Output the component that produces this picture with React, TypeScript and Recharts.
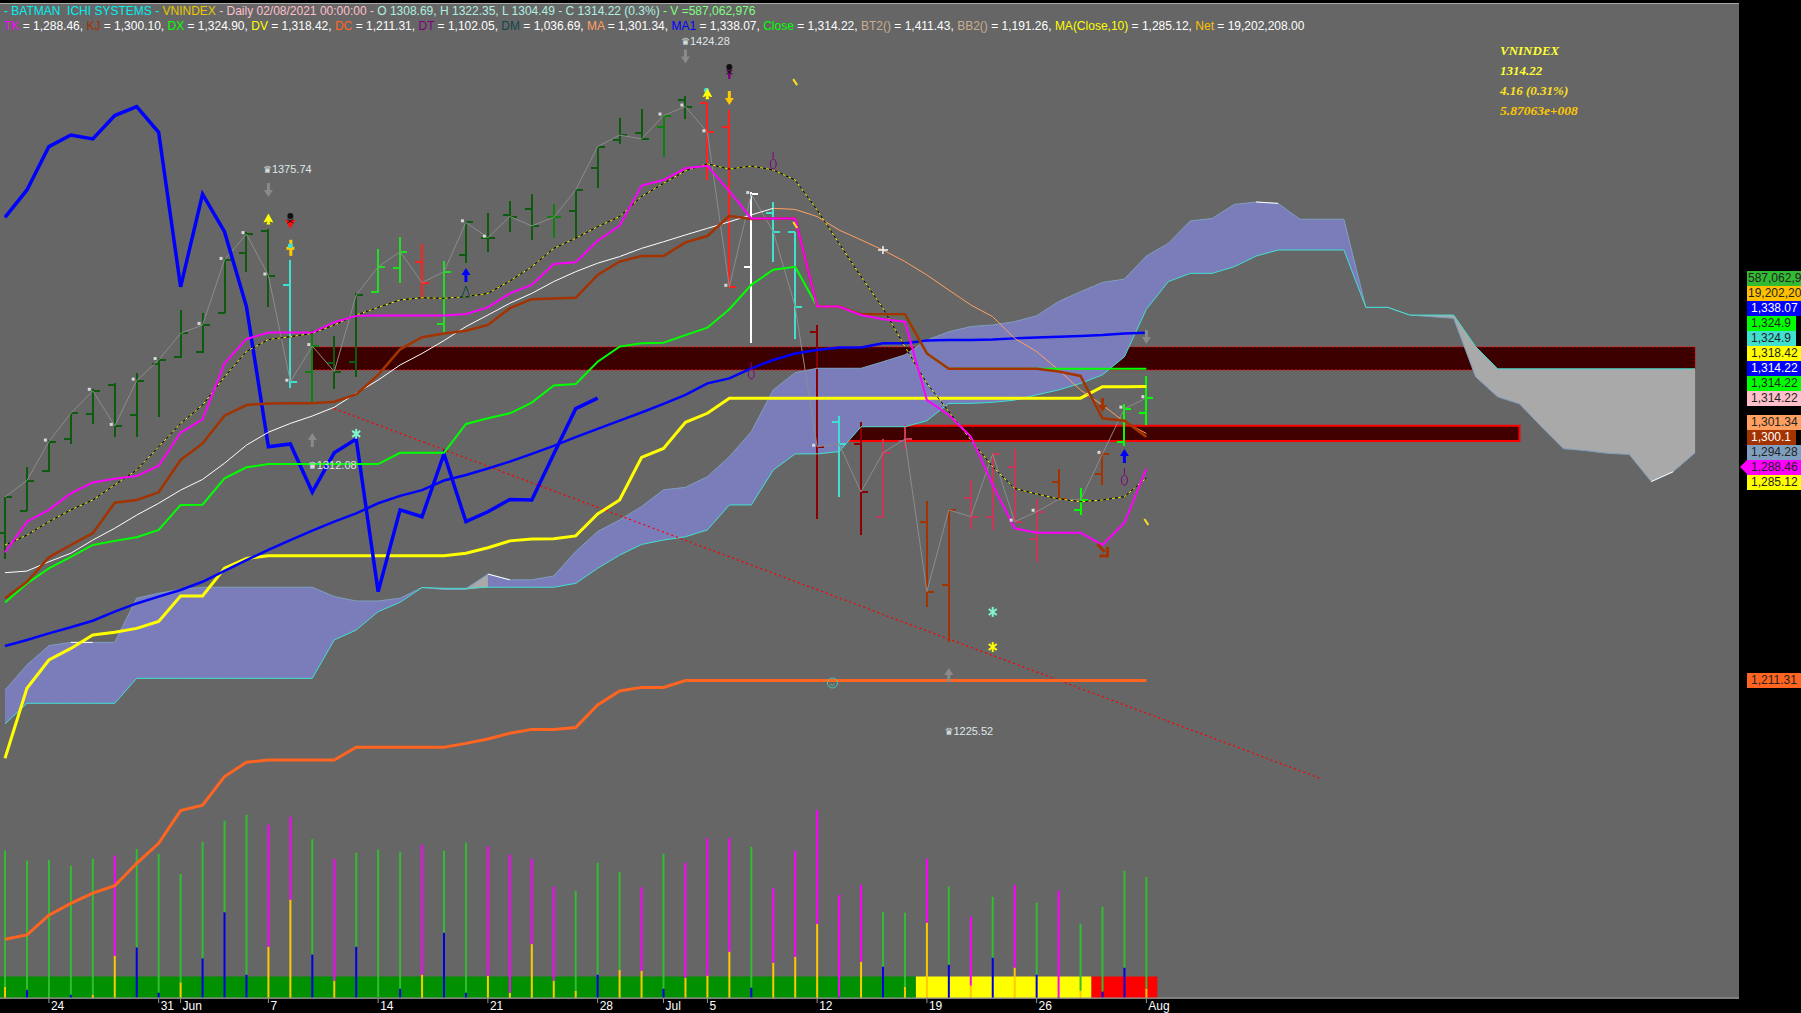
import { Area, Bar, Cell, ComposedChart, Line, ReferenceArea, ReferenceDot, ReferenceLine, XAxis, YAxis } from 'recharts';

const BARS_TOTAL = 78;

const opens = [1265.1, 1273.2, 1287.7, 1299.2, 1308.3, 1319.0, 1308.1, 1326.7, 1329.3, 1331.2, 1345.4, 1367.2, 1375.3, 1355.5, 1323.9, 1327.2, 1327.3, 1352.9, 1361.8, 1364.0, 1341.2, 1366.4, 1372.5, 1381.0, 1383.2, 1380.1, 1382.4, 1398.0, 1408.3, 1410.7, 1412.9, 1422.9, 1421.9, 1413.2, 1362.1, 1381.6, 1374.9, 1338.4, 1305.6, 1297.5, 1271.0, 1298.7, 1269.1, 1246.1, 1277.7, 1271.0, 1289.2, 1263.0, 1283.8, 1273.5, 1286.6, 1298.4, 1308.69];
const highs = [1278.2, 1289.0, 1299.0, 1308.9, 1317.4, 1319.6, 1323.3, 1328.7, 1346.3, 1345.1, 1365.2, 1374.6, 1375.74, 1364.6, 1339.1, 1336.9, 1352.4, 1368.5, 1372.8, 1370.3, 1364.3, 1378.5, 1381.6, 1386.1, 1388.5, 1384.8, 1390.3, 1405.9, 1416.2, 1419.5, 1417.4, 1424.28, 1421.9, 1419.2, 1389.5, 1385.6, 1374.9, 1340.9, 1307.7, 1305.4, 1299.2, 1304.4, 1276.7, 1273.5, 1284.4, 1294.1, 1295.6, 1277.3, 1288.4, 1281.5, 1294.1, 1312.1, 1322.35];
const lows = [1255.6, 1273.1, 1287.4, 1297.4, 1304.8, 1299.9, 1299.9, 1307.5, 1328.7, 1330.8, 1345.1, 1360.3, 1347.3, 1318.0, 1312.08, 1317.4, 1322.0, 1352.4, 1356.1, 1350.6, 1337.8, 1363.4, 1367.6, 1374.9, 1371.9, 1372.5, 1372.5, 1390.7, 1406.7, 1408.3, 1402.2, 1415.8, 1393.7, 1354.8, 1334.2, 1364.0, 1335.6, 1270.0, 1278.3, 1264.3, 1270.8, 1295.6, 1238.0, 1225.52, 1266.5, 1266.2, 1269.2, 1254.6, 1277.1, 1271.8, 1282.6, 1296.8, 1304.49];
const closes = [1278.2, 1284.2, 1298.4, 1308.7, 1316.9, 1304.1, 1320.6, 1328.1, 1337.8, 1340.9, 1364.6, 1374.0, 1358.9, 1320.2, 1333.2, 1323.9, 1351.8, 1362.1, 1367.6, 1356.3, 1360.3, 1378.3, 1372.7, 1380.4, 1377.0, 1380.1, 1390.1, 1405.9, 1410.1, 1408.7, 1417.2, 1420.5, 1411.1, 1354.8, 1388.6, 1374.9, 1347.6, 1296.5, 1297.5, 1280.0, 1294.3, 1299.3, 1243.7, 1273.5, 1271.0, 1293.9, 1269.2, 1272.8, 1277.3, 1277.1, 1293.9, 1310.4, 1314.22];

const DARK = '#0e5a0e';
const MID = '#108010';
const BRIGHT = '#22dd22';
const LIME = '#00ff00';
const TURQ = '#40e0d0';
const RED = '#ff2020';
const WHITE = '#ffffff';
const DRED = '#8b0000';
const ROSE = '#c8385a';
const BROWN = '#a33300';
const barColors = [DARK, DARK, DARK, DARK, DARK, DARK, DARK, DARK, DARK, DARK, DARK, DARK, DARK, TURQ, MID, DARK, DARK, BRIGHT, BRIGHT, RED, BRIGHT, DARK, DARK, DARK, DARK, MID, DARK, DARK, DARK, DARK, MID, DARK, RED, RED, WHITE, TURQ, TURQ, DRED, TURQ, DRED, ROSE, ROSE, BROWN, BROWN, ROSE, ROSE, ROSE, ROSE, BROWN, LIME, BROWN, LIME, LIME];

const tk = [1258.0, 1269.2, 1273.5, 1279.5, 1283.5, 1284.8, 1285.8, 1289.6, 1301.6, 1306.5, 1326.9, 1335.8, 1338.1, 1338.1, 1338.1, 1341.9, 1344.2, 1344.3, 1344.3, 1344.3, 1344.3, 1344.9, 1347.3, 1352.4, 1355.5, 1363.1, 1363.7, 1371.6, 1377.0, 1391.7, 1393.7, 1398.0, 1398.9, 1389.7, 1379.7, 1379.7, 1379.7, 1347.6, 1347.6, 1344.5, 1343.0, 1342.1, 1313.5, 1308.1, 1300.2, 1282.6, 1266.8, 1265.2, 1265.2, 1265.2, 1260.7, 1268.8, 1288.46];
const kj = [1241.3, 1247.3, 1256.2, 1260.7, 1265.0, 1276.1, 1277.1, 1279.9, 1291.7, 1297.7, 1307.8, 1311.7, 1312.3, 1312.4, 1312.4, 1312.9, 1315.6, 1322.7, 1332.0, 1336.4, 1337.8, 1338.8, 1340.9, 1347.0, 1350.3, 1350.5, 1350.8, 1359.1, 1364.0, 1366.0, 1366.0, 1371.0, 1373.3, 1380.7, 1379.5, 1379.7, 1379.7, 1347.6, 1347.6, 1344.8, 1344.8, 1344.8, 1330.5, 1324.9, 1324.9, 1324.9, 1324.9, 1324.9, 1323.9, 1322.3, 1306.9, 1306.0, 1300.1];
const dx = [1239.7, 1246.7, 1252.2, 1256.4, 1260.7, 1262.2, 1263.5, 1266.2, 1275.3, 1275.4, 1285.0, 1289.0, 1290.2, 1290.2, 1290.2, 1290.2, 1290.2, 1290.2, 1294.3, 1294.3, 1294.3, 1304.8, 1306.9, 1308.7, 1312.6, 1318.8, 1319.4, 1327.5, 1333.0, 1334.2, 1334.4, 1337.2, 1339.9, 1346.6, 1355.5, 1361.0, 1362.1, 1347.6, 1347.6, 1344.8, 1344.8, 1344.8, 1330.5, 1324.9, 1324.9, 1324.9, 1324.9, 1324.9, 1324.9, 1324.9, 1324.9, 1324.9, 1324.9];
const dv = [1183.0, 1208.5, 1218.8, 1223.0, 1227.9, 1228.9, 1230.3, 1232.8, 1242.1, 1242.1, 1252.2, 1255.8, 1256.8, 1256.8, 1256.8, 1256.8, 1256.8, 1256.8, 1256.8, 1256.8, 1256.8, 1257.7, 1259.7, 1262.2, 1262.9, 1263.0, 1264.0, 1272.0, 1277.1, 1292.6, 1295.9, 1305.4, 1308.7, 1314.2, 1314.2, 1314.2, 1314.2, 1314.2, 1314.2, 1314.2, 1314.2, 1314.2, 1314.2, 1314.2, 1314.2, 1314.2, 1314.2, 1314.2, 1314.2, 1314.2, 1318.4, 1318.4, 1318.42];
const dc = [1117.0, 1118.6, 1125.8, 1130.1, 1133.8, 1136.5, 1144.7, 1152.0, 1163.9, 1165.9, 1176.3, 1181.5, 1182.3, 1182.3, 1182.3, 1182.3, 1187.0, 1187.0, 1187.0, 1187.0, 1187.0, 1188.4, 1190.0, 1192.1, 1193.5, 1193.5, 1194.2, 1202.4, 1207.5, 1208.8, 1208.8, 1211.31, 1211.31, 1211.31, 1211.31, 1211.31, 1211.31, 1211.31, 1211.31, 1211.31, 1211.31, 1211.31, 1211.31, 1211.31, 1211.31, 1211.31, 1211.31, 1211.31, 1211.31, 1211.31, 1211.31, 1211.31, 1211.31];
const ma1 = [1223.9, 1226.1, 1228.5, 1230.7, 1233.1, 1236.4, 1239.4, 1241.9, 1244.3, 1247.3, 1251.3, 1255.2, 1258.9, 1262.5, 1265.9, 1269.2, 1272.2, 1275.9, 1278.6, 1280.7, 1284.2, 1286.2, 1288.6, 1291.1, 1293.9, 1296.8, 1300.0, 1303.0, 1306.0, 1309.0, 1312.1, 1315.4, 1319.6, 1321.4, 1325.1, 1328.1, 1330.5, 1331.8, 1332.7, 1332.7, 1334.2, 1334.2, 1335.2, 1335.4, 1335.4, 1335.6, 1336.0, 1336.3, 1336.6, 1336.9, 1337.2, 1337.8, 1338.07];
const ma = [1250.6, 1251.2, 1254.6, 1257.7, 1262.5, 1266.8, 1271.6, 1275.9, 1280.7, 1284.6, 1290.5, 1297.1, 1301.8, 1305.0, 1307.7, 1310.9, 1316.0, 1320.8, 1326.3, 1330.5, 1335.2, 1340.3, 1344.5, 1348.8, 1352.4, 1356.7, 1360.3, 1363.4, 1365.8, 1368.8, 1371.2, 1373.7, 1376.1, 1378.5, 1381.0, 1383.4, 1383.0, 1380.4, 1375.5, 1371.9, 1368.2, 1364.0, 1359.1, 1353.6, 1348.2, 1343.9, 1336.0, 1331.2, 1324.5, 1317.2, 1311.7, 1305.6, 1301.34];
const ma10 = [1260.7, 1264.3, 1269.2, 1273.5, 1277.1, 1282.6, 1288.0, 1296.5, 1305.0, 1311.7, 1322.0, 1331.2, 1335.6, 1336.6, 1337.8, 1340.9, 1344.5, 1347.3, 1350.0, 1350.8, 1350.6, 1351.2, 1352.4, 1356.9, 1362.1, 1368.8, 1372.5, 1376.7, 1380.4, 1387.7, 1392.5, 1397.1, 1399.6, 1397.7, 1398.8, 1397.4, 1393.7, 1382.8, 1370.6, 1358.5, 1347.0, 1333.0, 1319.6, 1309.3, 1299.0, 1289.2, 1281.3, 1279.3, 1277.5, 1276.5, 1277.1, 1278.3, 1285.12];
const MA_SWITCH = 35;

const spanA = [1207.8, 1217.0, 1224.0, 1225.2, 1225.2, 1225.2, 1241.3, 1243.1, 1244.5, 1245.3, 1245.3, 1245.3, 1245.3, 1245.3, 1245.3, 1241.9, 1240.3, 1240.3, 1241.3, 1245.2, 1244.5, 1244.5, 1250.1, 1248.0, 1248.0, 1249.4, 1258.3, 1265.6, 1269.8, 1274.7, 1280.8, 1281.7, 1285.6, 1292.9, 1302.0, 1317.2, 1323.5, 1325.1, 1325.1, 1325.1, 1327.5, 1330.0, 1335.4, 1338.4, 1340.3, 1340.9, 1342.1, 1344.2, 1349.4, 1353.0, 1356.4, 1357.6, 1366.0, 1370.6, 1378.8, 1379.7, 1384.8, 1385.7, 1385.2, 1379.4, 1379.4, 1379.4, 1347.3, 1347.3, 1344.5, 1343.9, 1343.3, 1322.0, 1314.7, 1312.1, 1303.8, 1295.8, 1295.1, 1294.1, 1293.7, 1283.8, 1287.4, 1294.28];
const spanB = [1195.5, 1203.0, 1203.0, 1203.0, 1203.0, 1203.0, 1212.1, 1212.1, 1212.1, 1212.1, 1212.1, 1212.1, 1212.1, 1212.1, 1212.1, 1226.1, 1229.7, 1236.4, 1239.8, 1245.2, 1244.9, 1244.9, 1245.3, 1245.3, 1245.3, 1245.3, 1246.7, 1252.2, 1257.0, 1260.9, 1262.5, 1263.7, 1266.2, 1275.3, 1275.3, 1288.0, 1293.9, 1293.9, 1294.7, 1303.8, 1303.8, 1303.8, 1306.0, 1312.3, 1312.3, 1312.7, 1313.5, 1315.4, 1317.2, 1319.6, 1322.7, 1329.3, 1346.6, 1356.7, 1359.7, 1359.7, 1362.1, 1366.0, 1368.2, 1368.2, 1368.2, 1368.2, 1347.3, 1347.3, 1344.5, 1344.5, 1344.5, 1333.0, 1324.9, 1324.9, 1324.9, 1324.9, 1324.9, 1324.9, 1324.9, 1324.9, 1324.9, 1324.9];
const CHIKOU_SHIFT = 25;

// volume in millions, and the short coloured part at the foot of each bar
const volumes = [713, 665, 669, 640, 673, 689, 721, 697, 600, 756, 858, 887, 839, 877, 769, 673, 703, 718, 708, 742, 713, 752, 734, 694, 674, 539, 519, 655, 611, 536, 698, 655, 774, 774, 732, 531, 713, 910, 500, 548, 418, 413, 674, 539, 394, 490, 548, 461, 519, 360, 442, 616, 587];
const volFoot = [55, 40, 3, 16, 16, 205, 245, 26, 76, 192, 415, 113, 248, 476, 211, 84, 248, 3, 45, 113, 316, 26, 108, 26, 261, 84, 35, 113, 137, 132, 45, 98, 108, 224, 50, 171, 200, 358, 6, 176, 152, 55, 365, 161, 60, 195, 147, 113, 6, 35, 31, 147, 45];
const volUp = [1, 1, 1, 1, 1, 0, 1, 1, 1, 1, 1, 1, 0, 0, 1, 0, 1, 1, 1, 0, 1, 1, 0, 0, 0, 0, 1, 1, 1, 0, 1, 0, 0, 0, 1, 0, 0, 0, 0, 0, 1, 1, 0, 1, 0, 1, 0, 1, 0, 1, 1, 1, 1];
const footBlue = [0, 1, 0, 1, 0, 0, 1, 1, 0, 1, 1, 1, 0, 0, 1, 0, 1, 1, 1, 0, 1, 1, 0, 0, 0, 0, 0, 1, 0, 0, 1, 0, 0, 0, 1, 0, 0, 0, 1, 0, 1, 0, 0, 1, 0, 1, 0, 1, 1, 0, 1, 1, 0];

// state strip under the volume: colour runs between these bar positions
const stripEdges = [-0.228, 41.5, 49.5, 52.5];
const stripColors = ['#009000', '#ffff00', '#ff0000'];
const STRIP_HEIGHT = 104;

const closeDots = [2, 4, 5, 6, 7, 9, 10, 11, 12, 13, 14, 21, 22, 30, 31, 32, 33, 34, 37, 46, 47, 50, 51, 52];

const tickIndex = [2, 7, 8, 12, 17, 22, 27, 30, 32, 37, 42, 47, 52];
const tickText = ['24', '31', 'Jun', '7', '14', '21', '28', 'Jul', '5', '12', '19', '26', 'Aug'];

const infoLine1 = [
  ['- BATMAN  ICHI SYSTEMS - ', '#00f0f0'],
  ['VNINDEX', '#e8c800'],
  [' - Daily 02/08/2021 00:00:00 - ', '#ffc0cb'],
  ['O 1308.69, H 1322.35, L 1304.49 - C 1314.22 (0.3%)', '#b0f0e0'],
  [' - V =587,062,976', '#80ff80'],
];
const infoNames = ['TK', 'KJ', 'DX', 'DV', 'DC', 'DT', 'DM', 'MA', 'MA1', 'Close', 'BT2()', 'BB2()', 'MA(Close,10)', 'Net'];
const infoValues = ['1,288.46', '1,300.10', '1,324.90', '1,318.42', '1,211.31', '1,102.05', '1,036.69', '1,301.34', '1,338.07', '1,314.22', '1,411.43', '1,191.26', '1,285.12', '19,202,208.00'];
const infoColors = ['#ff00ff', '#a33300', '#00ff00', '#ffff00', '#ff6420', '#800080', '#104848', '#ffa060', '#0000ff', '#00ff00', '#c8ad90', '#c8ad90', '#ffff00', '#ffc000'];

const sideTop = ['587,062,9', '19,202,20', '1,338.07', '1,324.9', '1,324.9', '1,318.42', '1,314.22', '1,314.22', '1,314.22'];
const sideTopFill = ['#33bb33', '#ffc000', '#0000ff', '#00ff00', '#40e0d0', '#ffff00', '#0000ff', '#00ff00', '#ffc0cb'];
const sideMid = ['1,301.34', '1,300.1', '1,294.28', '1,288.46', '1,285.12'];
const sideMidFill = ['#ffa060', '#a33300', '#7f9fc0', '#ff00ff', '#ffff00'];

const markIndex = [31, 12, 12, 13, 13, 32, 33, 33, 36, 35, 36, 40, 21, 21, 14, 16, 34, 37.7, 45, 45, 43, 50, 51, 51, 52, 50, 52];
const markPrice = [1438.7, 1390.1, 1379.3, 1379.1, 1369, 1425, 1433.4, 1423.6, 1429.4, 1401, 1377.3, 1368.2, 1359.1, 1352.9, 1299, 1301.2, 1324.5, 1210.4, 1236.3, 1223.5, 1213.3, 1311.7, 1293.1, 1285.8, 1269.1, 1258.9, 1336.5];
const markKind = ['down', 'down', 'spade', 'skullRed', 'figure', 'spade2', 'skullPurple', 'downGold', 'dash', 'hand', 'dash', 'plus', 'upBlue', 'triangle', 'up', 'starTurq', 'hand', 'smile', 'starTurq', 'starYellow', 'up', 'downBrown', 'upBlue', 'hand', 'dash', 'diagBrown', 'down'];

const priceLabelIndex = [30.8, 11.75, 13.8, 42.8];
const priceLabelValue = [1444.5, 1397.8, 1289.9, 1192.9];
const priceLabelText = ['1424.28', '1375.74', '1312.08', '1225.52'];

const rows = Array.from({ length: BARS_TOTAL }, (_, i) => {
  const has = i < closes.length;
  const a = spanA[i];
  const b = spanB[i];
  return {
    i,
    ohlc: has ? [lows[i], highs[i]] : null,
    open: opens[i],
    close: closes[i],
    high: highs[i],
    low: lows[i],
    tk: tk[i],
    kj: kj[i],
    dx: dx[i],
    dv: dv[i],
    dc: dc[i],
    ma1: ma1[i],
    maLow: i <= MA_SWITCH ? ma[i] : null,
    maHigh: i >= MA_SWITCH && has ? ma[i] : null,
    ma10: ma10[i],
    chikou: i + CHIKOU_SHIFT < closes.length ? closes[i + CHIKOU_SHIFT] : null,
    spanA: a,
    spanB: b,
    cloudUp: [b, Math.max(a, b)],
    cloudDown: [Math.min(a, b), b],
    flip: i === 21 ? [b, b] : i === 22 ? [b, a] : null,
    edgeWhite: [3, 4, 22, 23, 57, 58, 75, 76].includes(i) ? a : null,
    foot: has ? volFoot[i] : null,
    rest: has ? volumes[i] - volFoot[i] : null,
  };
});

function OhlcMark(props: any) {
  const { x, y, width, height, payload } = props;
  if (!payload || payload.high == null) return null;
  const cx = x + width / 2;
  const span = payload.high - payload.low;
  const openY = y + ((payload.high - payload.open) / span) * height;
  const closeY = y + ((payload.high - payload.close) / span) * height;
  const color = barColors[payload.i];
  return (
    <g stroke={color} strokeWidth={2} shapeRendering="crispEdges">
      <line x1={cx} x2={cx} y1={y} y2={y + height} />
      <line x1={cx - 7} x2={cx} y1={openY} y2={openY} />
      <line x1={cx} x2={cx + 7} y1={closeY} y2={closeY} />
    </g>
  );
}

function CloseDot(props: any) {
  const { cx, cy, payload } = props;
  if (cy == null || !closeDots.includes(payload.i)) return <g />;
  return <rect x={cx - 5} y={cy - 3} width={3} height={3} fill="#d8d8d8" />;
}

function AxisTick(props: any) {
  const { x, payload } = props;
  const text = tickText[tickIndex.indexOf(payload.value)];
  return (
    <g>
      <line x1={x} x2={x} y1={999} y2={1003} stroke="#999" />
      <text x={x + 2} y={1010} fill="#fff" fontSize={12} fontFamily="Liberation Sans">{text}</text>
    </g>
  );
}

function Arrow({ x, y, color, dir }: { x: number; y: number; color: string; dir: number }) {
  return <path d={`M${x - 1.5} ${y - 7 * dir}L${x + 1.5} ${y - 7 * dir}L${x + 1.5} ${y}L${x + 4.5} ${y}L${x} ${y + 7 * dir}L${x - 4.5} ${y}L${x - 1.5} ${y}Z`} fill={color} />;
}

function Star({ x, y, color }: { x: number; y: number; color: string }) {
  return (
    <g stroke={color} strokeWidth={2}>
      <line x1={x} x2={x} y1={y - 5} y2={y + 5} />
      <line x1={x - 4} x2={x + 4} y1={y - 3} y2={y + 3} />
      <line x1={x + 4} x2={x - 4} y1={y - 3} y2={y + 3} />
    </g>
  );
}

function Mark({ cx: x, cy: y, kind }: { cx: number; cy: number; kind: string }) {
  switch (kind) {
    case 'down':
      return <Arrow x={x} y={y} color="#8a8a8a" dir={1} />;
    case 'up':
      return <Arrow x={x} y={y} color="#8a8a8a" dir={-1} />;
    case 'downGold':
      return <Arrow x={x} y={y} color="#ffc800" dir={1} />;
    case 'downBrown':
      return <Arrow x={x} y={y} color={BROWN} dir={1} />;
    case 'upBlue':
      return <Arrow x={x} y={y} color="#0000ff" dir={-1} />;
    case 'spade':
    case 'spade2':
      return (
        <g>
          {kind === 'spade2' && <circle cx={x - 1} cy={y - 4} r={2.5} fill={TURQ} />}
          <path d={`M${x} ${y - 6}L${x + 5} ${y + 3}L${x + 1} ${y + 2}L${x + 2} ${y + 5}L${x - 2} ${y + 5}L${x - 1} ${y + 2}L${x - 5} ${y + 3}Z`} fill="#ffff00" />
        </g>
      );
    case 'skullRed':
    case 'skullPurple': {
      const c = kind === 'skullRed' ? '#ff1010' : '#800080';
      return (
        <g>
          <path d={kind === 'skullRed' ? `M${x - 5} ${y}L${x + 5} ${y}L${x} ${y + 9}Z` : `M${x - 2} ${y - 3}L${x + 2} ${y - 3}L${x + 1} ${y + 8}L${x - 1} ${y + 8}Z`} fill={c} />
          <circle cx={x} cy={y - 4} r={3} fill="#111" />
          <path d={`M${x - 3} ${y - 1}L${x + 3} ${y + 3}M${x + 3} ${y - 1}L${x - 3} ${y + 3}`} stroke="#111" strokeWidth={1} />
        </g>
      );
    }
    case 'figure':
      return (
        <g>
          <rect x={x - 1} y={y - 8} width={3} height={16} fill="#ffc800" />
          <rect x={x - 4} y={y - 1} width={8} height={3} fill="#ffc800" />
          <circle cx={x} cy={y - 2} r={2.5} fill={TURQ} />
        </g>
      );
    case 'dash':
      return <line x1={x - 2} y1={y - 3} x2={x + 2} y2={y + 3} stroke="#ffe020" strokeWidth={2} />;
    case 'hand':
      return <path d={`M${x} ${y - 8}L${x} ${y - 2}M${x - 3} ${y + 4}a3 5 0 1 0 6 0a3 5 0 1 0 -6 0`} stroke="#800080" strokeWidth={1} fill="none" />;
    case 'plus':
      return <path d={`M${x - 5} ${y}L${x + 5} ${y}M${x} ${y - 4}L${x} ${y + 4}`} stroke="#f4f4f4" strokeWidth={1.5} />;
    case 'triangle':
      return <path d={`M${x} ${y - 6}L${x + 4} ${y + 5}L${x - 4} ${y + 5}Z`} stroke="#104848" strokeWidth={1} fill="none" />;
    case 'starTurq':
      return <Star x={x} y={y} color="#7ff5d0" />;
    case 'starYellow':
      return <Star x={x} y={y} color="#ffff00" />;
    case 'smile':
      return (
        <g fill="none" stroke="#48c8b0" strokeWidth={1}>
          <circle cx={x} cy={y} r={5} />
          <path d={`M${x - 2} ${y + 1}Q${x} ${y + 4} ${x + 2} ${y + 1}`} />
        </g>
      );
    case 'diagBrown':
      return <path d={`M${x - 5} ${y - 6}L${x + 2} ${y + 2}M${x - 3} ${y + 6}L${x + 5} ${y + 6}L${x + 5} ${y - 3}`} stroke={BROWN} strokeWidth={3} fill="none" />;
    default:
      return <g />;
  }
}

function PriceLabel({ cx, cy, text }: { cx: number; cy: number; text: string }) {
  return (
    <text x={cx} y={cy} dy={4} fill="#dfe6ea" fontSize={11} fontFamily="Liberation Sans">
      <tspan fontFamily="DejaVu Sans" fontSize={10}>{'\u265B'}</tspan>
      {text}
    </text>
  );
}

function SideTag({ text, fill }: { text: string; fill: string }) {
  const light = fill === '#0000ff' || fill === '#a33300';
  const short = text === '1,324.9' || text === '1,300.1';
  return (
    <div style={{ height: 15, width: short ? 49 : 54, background: fill, color: light ? '#fff' : '#222', paddingLeft: text.length > 8 ? 1 : 4, boxSizing: 'border-box', whiteSpace: 'nowrap', lineHeight: '15px' }}>
      {text}
    </div>
  );
}

export default function App() {
  const hiddenX = (id: string) => (
    <XAxis xAxisId={id} dataKey="i" type="number" domain={[-0.228, 79]} allowDataOverflow hide />
  );
  return (
    <div style={{ position: 'absolute', left: 0, top: 0, width: 1801, height: 1013, background: '#000', overflow: 'hidden', fontFamily: 'Liberation Sans' }}>
      <div style={{ position: 'absolute', left: 0, top: 3, width: 1739, height: 995, background: '#666666', borderTop: '1px solid #aaa' }} />
      <div style={{ position: 'absolute', left: 0, top: 0 }}>
        <ComposedChart width={1801} height={1013} data={rows} margin={{ top: 0, right: 62, bottom: 0, left: 0 }}>
          <XAxis xAxisId="main" dataKey="i" type="number" domain={[-0.228, 79]} allowDataOverflow ticks={tickIndex} interval={0} height={15} tick={<AxisTick />} tickLine={false} axisLine={{ stroke: '#999' }} />
          {hiddenX('vol')}
          {hiddenX('ohlc')}
          <YAxis yAxisId="price" domain={[1095.6, 1459.32]} allowDataOverflow hide />
          <YAxis yAxisId="volume" domain={[0, 4830]} allowDataOverflow hide />

          {stripColors.map((c, n) => (
            <ReferenceArea key={c} xAxisId="main" yAxisId="volume" x1={stripEdges[n]} x2={stripEdges[n + 1]} y1={0} y2={STRIP_HEIGHT} fill={c} fillOpacity={1} stroke="none" />
          ))}
          <Bar xAxisId="vol" yAxisId="volume" dataKey="foot" stackId="v" barSize={2} isAnimationActive={false}>
            {footBlue.map((b, i) => <Cell key={i} fill={b ? '#0000e0' : '#ffc800'} />)}
          </Bar>
          <Bar xAxisId="vol" yAxisId="volume" dataKey="rest" stackId="v" barSize={2} isAnimationActive={false}>
            {volUp.map((u, i) => <Cell key={i} fill={u ? '#33bb33' : '#ff00ff'} />)}
          </Bar>

          <ReferenceArea xAxisId="main" yAxisId="price" x1={14} x2={77} y1={1332.9} y2={1324.5} fill="#3c0000" fillOpacity={1} stroke="#ff0000" strokeDasharray="2 2" />
          <ReferenceArea xAxisId="main" yAxisId="price" x1={38} x2={69} y1={1304.2} y2={1298.6} fill="#400000" fillOpacity={1} stroke="#ff0000" strokeWidth={2} />

          <Area xAxisId="main" yAxisId="price" dataKey="cloudUp" stroke="none" fill="#7b7dbb" fillOpacity={1} isAnimationActive={false} activeDot={false} />
          <Area xAxisId="main" yAxisId="price" dataKey="cloudDown" stroke="none" fill="#a9a9a9" fillOpacity={1} isAnimationActive={false} activeDot={false} />
          <Area xAxisId="main" yAxisId="price" dataKey="flip" stroke="none" fill="#a9a9a9" fillOpacity={1} isAnimationActive={false} activeDot={false} />
          <Line xAxisId="main" yAxisId="price" dataKey="spanA" stroke="#7f9fc0" strokeWidth={1} dot={false} activeDot={false} isAnimationActive={false} />
          <Line xAxisId="main" yAxisId="price" dataKey="spanB" stroke="#40e0d0" strokeWidth={1} dot={false} activeDot={false} isAnimationActive={false} />
          <Line xAxisId="main" yAxisId="price" dataKey="edgeWhite" stroke="#ffffff" strokeWidth={1} dot={false} activeDot={false} isAnimationActive={false} />

          <ReferenceLine xAxisId="main" yAxisId="price" segment={[{ x: 15, y: 1310.4 }, { x: 60, y: 1175.4 }]} stroke="#ff0000" strokeWidth={1.3} strokeDasharray="2 3" />

          <Bar xAxisId="ohlc" yAxisId="price" dataKey="ohlc" barSize={2} shape={<OhlcMark />} isAnimationActive={false} />
          <Line xAxisId="main" yAxisId="price" dataKey="close" stroke="#8c8c8c" strokeWidth={1} dot={<CloseDot />} activeDot={false} isAnimationActive={false} />

          <Line xAxisId="main" yAxisId="price" dataKey="dc" stroke="#ff6420" strokeWidth={3} dot={false} activeDot={false} isAnimationActive={false} />
          <Line xAxisId="main" yAxisId="price" dataKey="dv" stroke="#ffff00" strokeWidth={3} dot={false} activeDot={false} isAnimationActive={false} />
          <Line xAxisId="main" yAxisId="price" dataKey="ma1" stroke="#0000ff" strokeWidth={2.5} dot={false} activeDot={false} isAnimationActive={false} />
          <Line xAxisId="main" yAxisId="price" dataKey="chikou" stroke="#0000ff" strokeWidth={3.5} dot={false} activeDot={false} isAnimationActive={false} />
          <Line xAxisId="main" yAxisId="price" dataKey="maLow" stroke="#ffffff" strokeWidth={1} dot={false} activeDot={false} isAnimationActive={false} />
          <Line xAxisId="main" yAxisId="price" dataKey="maHigh" stroke="#ffa060" strokeWidth={1} dot={false} activeDot={false} isAnimationActive={false} />
          <Line xAxisId="main" yAxisId="price" dataKey="ma10" stroke="#000000" strokeWidth={1} dot={false} activeDot={false} isAnimationActive={false} />
          <Line xAxisId="main" yAxisId="price" dataKey="ma10" stroke="#ffff00" strokeWidth={1} strokeDasharray="3 3" dot={false} activeDot={false} isAnimationActive={false} />
          <Line xAxisId="main" yAxisId="price" dataKey="dx" stroke="#00ff00" strokeWidth={2} dot={false} activeDot={false} isAnimationActive={false} />
          <Line xAxisId="main" yAxisId="price" dataKey="kj" stroke="#a33300" strokeWidth={2.5} dot={false} activeDot={false} isAnimationActive={false} />
          <Line xAxisId="main" yAxisId="price" dataKey="tk" stroke="#ff00ff" strokeWidth={2} dot={false} activeDot={false} isAnimationActive={false} />

          {markKind.map((kind, n) => (
            <ReferenceDot key={n} xAxisId="main" yAxisId="price" x={markIndex[n]} y={markPrice[n]} shape={(p: any) => <Mark cx={p.cx} cy={p.cy} kind={kind} />} />
          ))}
          {priceLabelText.map((text, n) => (
            <ReferenceDot key={text} xAxisId="main" yAxisId="price" x={priceLabelIndex[n]} y={priceLabelValue[n]} shape={(p: any) => <PriceLabel cx={p.cx} cy={p.cy} text={text} />} />
          ))}
        </ComposedChart>
      </div>

      <div style={{ position: 'absolute', left: 4, top: 4, fontSize: 12, lineHeight: '14px', whiteSpace: 'pre' }}>
        {infoLine1.map(([t, c]) => <span key={t} style={{ color: c }}>{t}</span>)}
      </div>
      <div style={{ position: 'absolute', left: 4, top: 19, fontSize: 12, lineHeight: '14px', whiteSpace: 'pre', color: '#fff' }}>
        {infoNames.map((name, n) => (
          <span key={name}>
            <span style={{ color: infoColors[n] }}>{name}</span>
            {` = ${infoValues[n]}${n < infoNames.length - 1 ? ', ' : ''}`}
          </span>
        ))}
      </div>

      <div style={{ position: 'absolute', left: 1500, top: 41, fontFamily: 'Liberation Serif', fontStyle: 'italic', fontWeight: 'bold', fontSize: 13, lineHeight: '20px', color: '#ffff33', whiteSpace: 'nowrap' }}>
        <div>VNINDEX</div>
        <div>1314.22</div>
        <div style={{ fontSize: 13, color: '#ffe020' }}>4.16 (0.31%)</div>
        <div style={{ fontSize: 13.5, color: '#ffc800' }}>5.87063e+008</div>
      </div>

      <div style={{ position: 'absolute', left: 1747, top: 271, fontSize: 12 }}>
        {sideTop.map((t, n) => <SideTag key={n} text={t} fill={sideTopFill[n]} />)}
      </div>
      <div style={{ position: 'absolute', left: 1747, top: 415, fontSize: 12 }}>
        {sideMid.map((t, n) => <SideTag key={n} text={t} fill={sideMidFill[n]} />)}
      </div>
      <div style={{ position: 'absolute', left: 1740, top: 460, width: 0, height: 0, borderTop: '7.5px solid transparent', borderBottom: '7.5px solid transparent', borderRight: '7px solid #ff00ff' }} />
      <div style={{ position: 'absolute', left: 1747, top: 673, fontSize: 12 }}>
        <SideTag text="1,211.31" fill="#ff6420" />
      </div>
    </div>
  );
}
